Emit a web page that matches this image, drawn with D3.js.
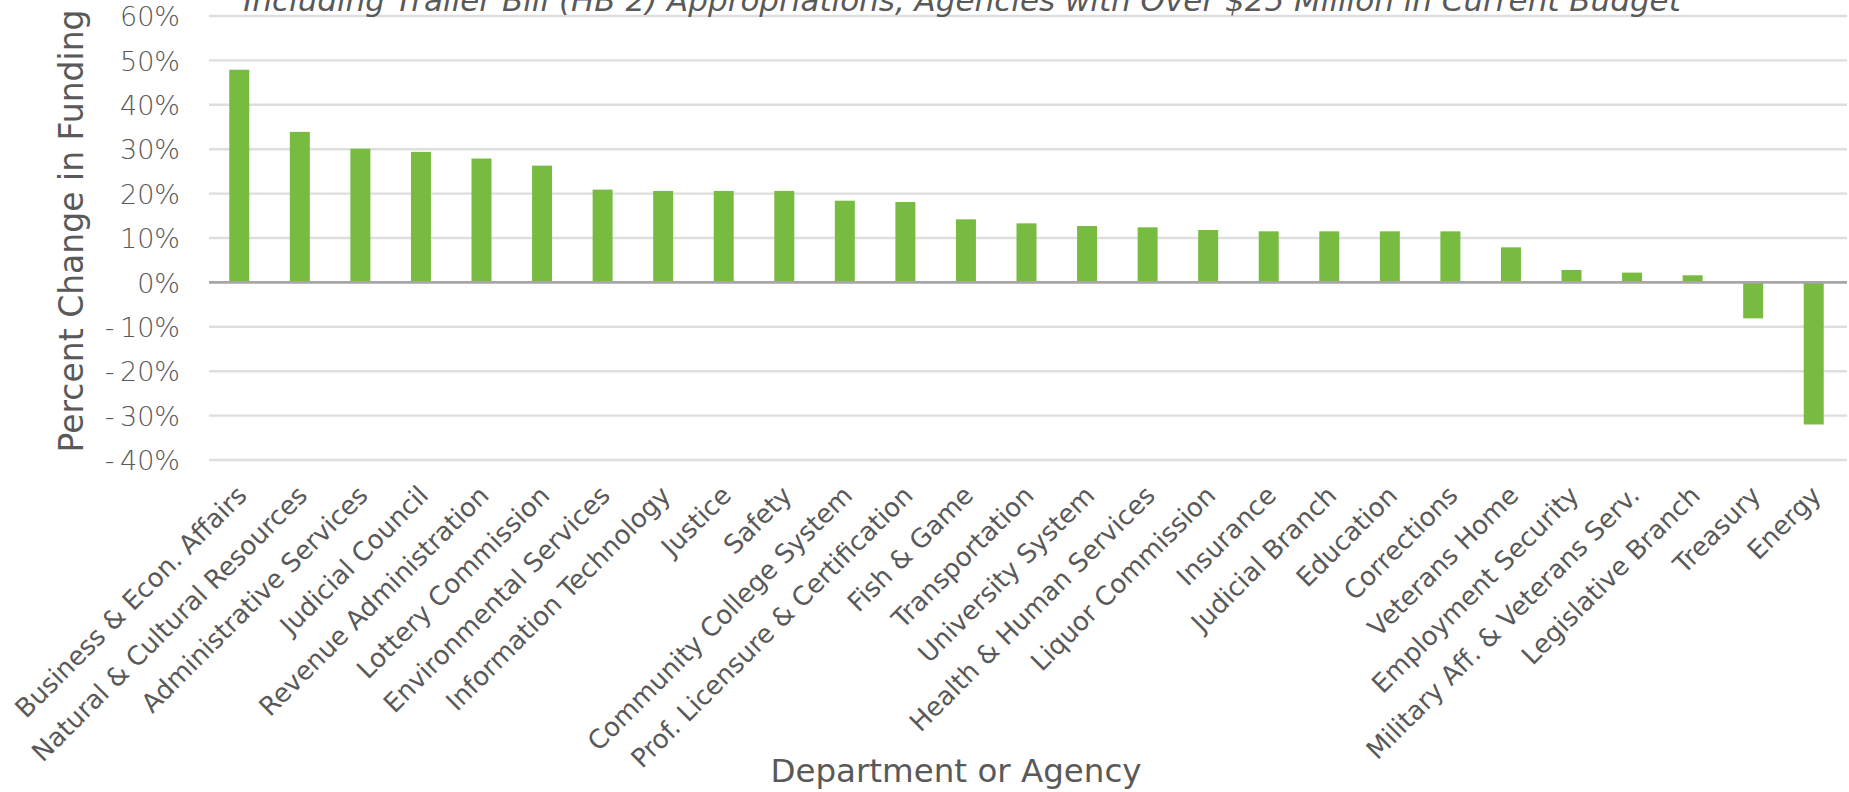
<!DOCTYPE html>
<html>
<head>
<meta charset="utf-8">
<script src="https://cdn.jsdelivr.net/npm/d3@7"></script>
<style>
  html, body { margin: 0; padding: 0; background: #ffffff; }
  svg { display: block; }
  text { font-family: "DejaVu Sans", sans-serif; fill: #595959; }
</style>
</head>
<body>
<svg id="chart" width="1849" height="792"></svg>
<script>
// Agencies, ordered by percent change in funding
const agencies = [
  "Business & Econ. Affairs",
  "Natural & Cultural Resources",
  "Administrative Services",
  "Judicial Council",
  "Revenue Administration",
  "Lottery Commission",
  "Environmental Services",
  "Information Technology",
  "Justice",
  "Safety",
  "Community College System",
  "Prof. Licensure & Certification",
  "Fish & Game",
  "Transportation",
  "University System",
  "Health & Human Services",
  "Liquor Commission",
  "Insurance",
  "Judicial Branch",
  "Education",
  "Corrections",
  "Veterans Home",
  "Employment Security",
  "Military Aff. & Veterans Serv.",
  "Legislative Branch",
  "Treasury",
  "Energy"
];

// Percent change in funding (as fractions)
const pctChange = [
  0.479, 0.339, 0.301, 0.294, 0.279, 0.263, 0.209, 0.206, 0.206, 0.206,
  0.184, 0.181, 0.142, 0.133, 0.127, 0.124, 0.118, 0.115, 0.115, 0.115,
  0.115, 0.079, 0.028, 0.022, 0.016, -0.081, -0.320
];

const yTicks = [0.6, 0.5, 0.4, 0.3, 0.2, 0.1, 0, -0.1, -0.2, -0.3, -0.4];

const titleText = "Including Trailer Bill (HB 2) Appropriations, Agencies with Over $25 Million in Current Budget";
const yTitle = "Percent Change in Funding";
const xTitle = "Department or Agency";

const data = agencies.map((name, i) => ({ name, value: pctChange[i] }));

const svg = d3.select("#chart");
const plot = { left: 209, right: 1844, top: 16, bottom: 460 };

const x = d3.scaleBand()
  .domain(agencies)
  .range([plot.left, plot.right])
  .paddingInner(0.67)
  .paddingOuter(0.335);

const y = d3.scaleLinear()
  .domain([-0.4, 0.6])
  .range([plot.bottom, plot.top]);

// Percent labels, with a thin gap after the minus sign
const pctFmt = v => {
  const s = Math.round(v * 100) + "%";
  return v < 0 ? s.replace("-", "-\u2009") : s;
};

// Horizontal gridlines
svg.append("g")
  .selectAll("line")
  .data(yTicks.filter(t => t !== 0))
  .join("line")
  .attr("x1", plot.left)
  .attr("x2", 1847)
  .attr("y1", d => y(d))
  .attr("y2", d => y(d))
  .attr("stroke", "#dedede")
  .attr("stroke-width", 2.4);

// Y axis tick labels
const yAxis = d3.axisLeft(y)
  .tickValues(yTicks)
  .tickSize(0)
  .tickPadding(0)
  .tickFormat(pctFmt);

const gy = svg.append("g")
  .attr("transform", `translate(180,0)`)
  .call(yAxis);
gy.select(".domain").remove();
gy.selectAll("text")
  .attr("font-size", 27)
  .attr("font-family", "DejaVu Sans")
  .attr("fill", "#555555")
  .attr("dy", "0.36em")
  .style("font-weight", 300);

// Bars
svg.append("g")
  .selectAll("rect")
  .data(data)
  .join("rect")
  .attr("x", d => x(d.name))
  .attr("width", x.bandwidth())
  .attr("y", d => y(Math.max(0, d.value)))
  .attr("height", d => Math.abs(y(d.value) - y(0)))
  .attr("fill", "#77bb41");

// Zero baseline
svg.append("line")
  .attr("x1", plot.left)
  .attr("x2", 1847)
  .attr("y1", y(0))
  .attr("y2", y(0))
  .attr("stroke", "#a6a6a6")
  .attr("stroke-width", 2.6);

// X axis category labels, rotated
const xAxis = d3.axisBottom(x).tickSize(0).tickPadding(0);
const gx = svg.append("g")
  .attr("transform", `translate(0,${plot.bottom})`)
  .call(xAxis);
gx.select(".domain").remove();
gx.selectAll(".tick text")
  .attr("font-size", 26)
  .attr("font-family", "DejaVu Sans")
  .attr("fill", "#595959")
  .attr("text-anchor", "end")
  .attr("dy", 0)
  .attr("y", 0)
  .attr("transform", "translate(9,37) rotate(-45)");

// Axis titles
svg.append("text")
  .attr("transform", `translate(83,231) rotate(-90)`)
  .attr("text-anchor", "middle")
  .attr("font-size", 33)
  .attr("fill", "#595959")
  .text(yTitle);

svg.append("text")
  .attr("x", 956)
  .attr("y", 782)
  .attr("text-anchor", "middle")
  .attr("font-size", 32.5)
  .attr("fill", "#595959")
  .text(xTitle);

// Chart title (runs off the top edge)
svg.append("text")
  .attr("x", 962)
  .attr("y", 11)
  .attr("text-anchor", "middle")
  .attr("font-size", 31)
  .attr("font-style", "italic")
  .attr("fill", "#595959")
  .text(titleText);
</script>
</body>
</html>
